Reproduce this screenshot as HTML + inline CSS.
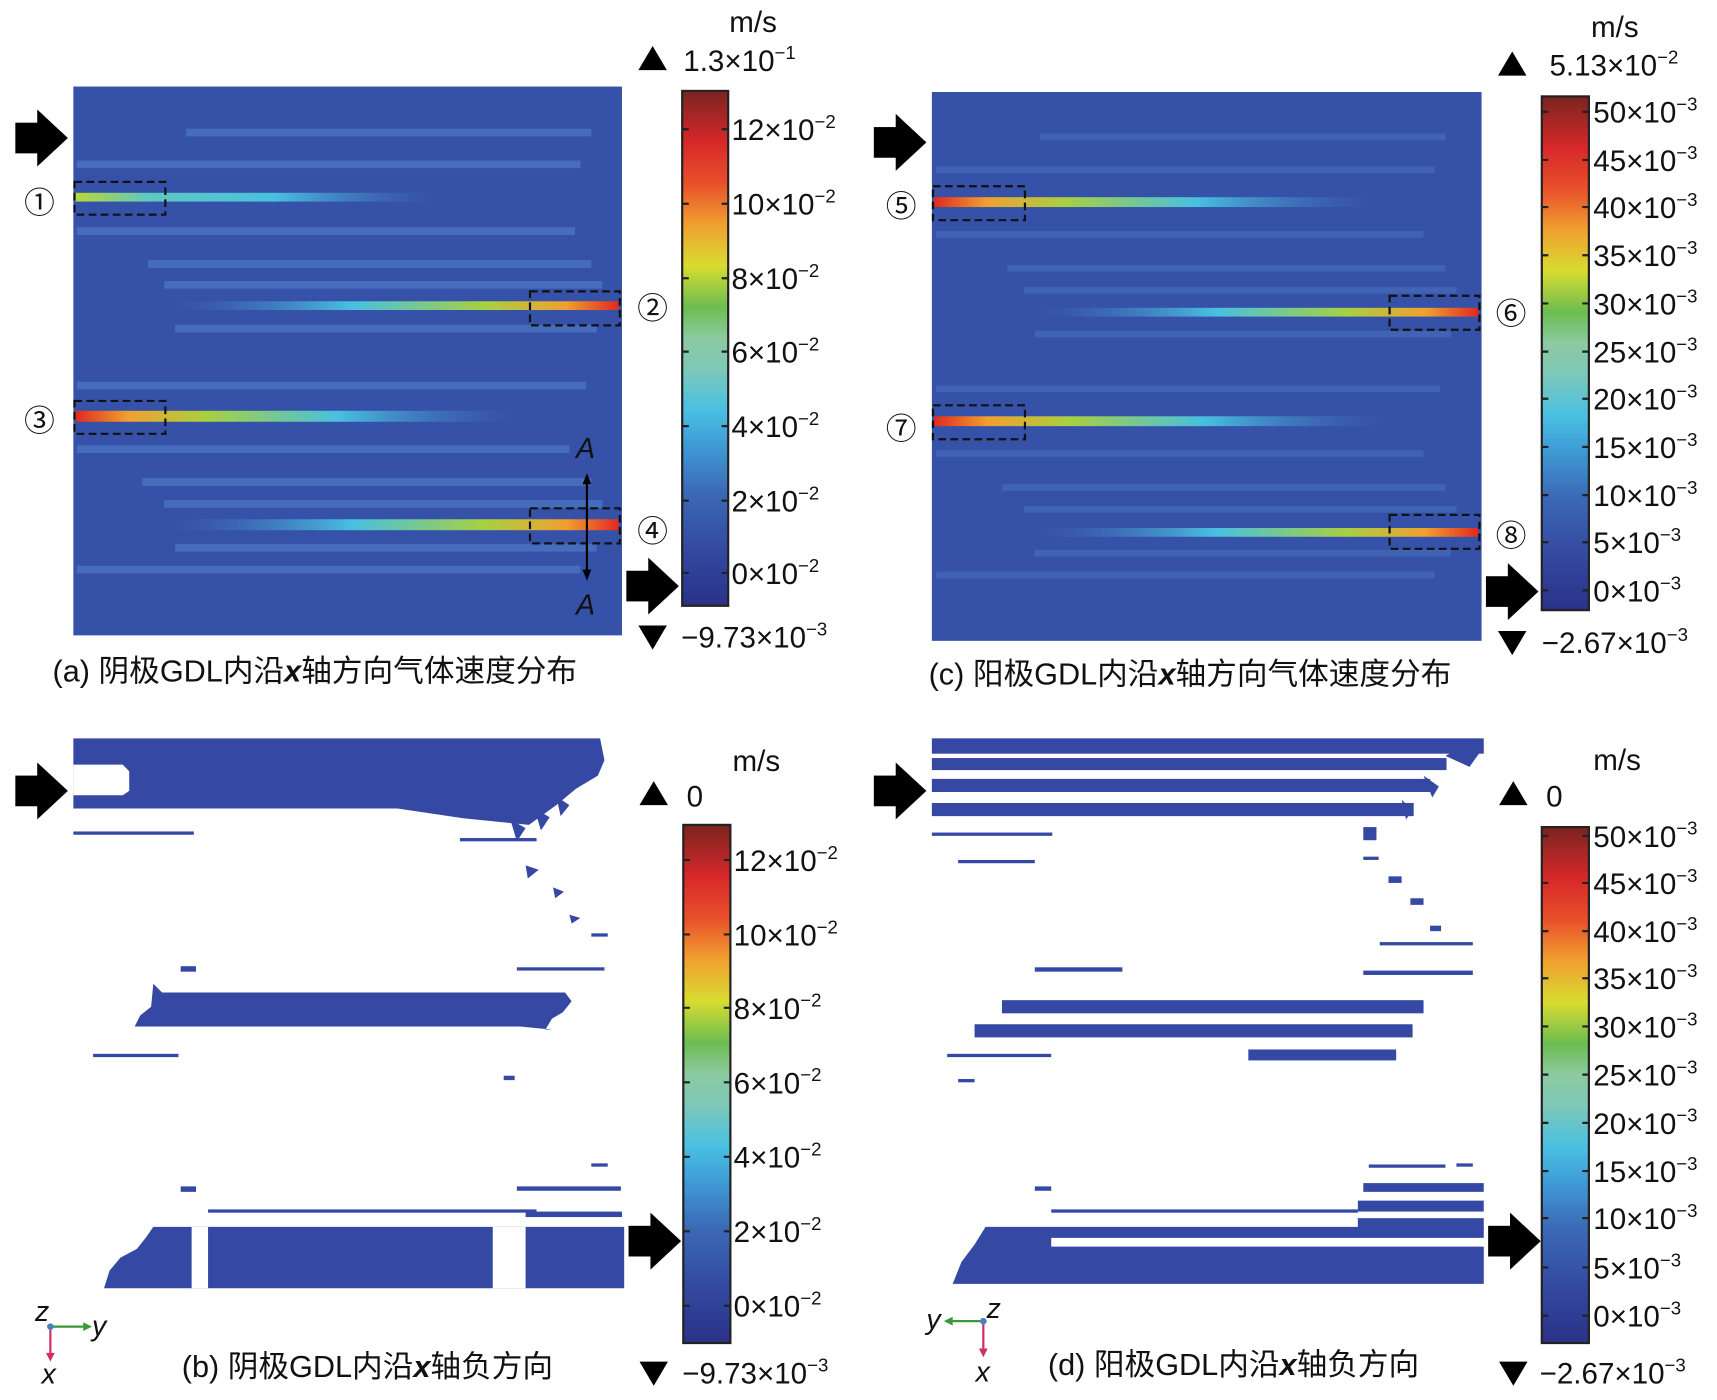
<!DOCTYPE html>
<html><head><meta charset="utf-8"><style>
html,body{margin:0;padding:0;background:#fff;}
svg{display:block;}
text{font-family:"Liberation Sans","Noto Sans CJK SC",sans-serif;fill:#111;}
</style></head><body>
<svg width="1717" height="1400" viewBox="0 0 1568 1278" preserveAspectRatio="none" xmlns="http://www.w3.org/2000/svg">
<defs>
<linearGradient id="cb" x1="0" y1="1" x2="0" y2="0">
<stop offset="0" stop-color="#2a3288"/><stop offset="0.1" stop-color="#33479f"/>
<stop offset="0.22" stop-color="#3b69b5"/><stop offset="0.32" stop-color="#3fa0d8"/>
<stop offset="0.38" stop-color="#4ac0e2"/><stop offset="0.46" stop-color="#7ec8b8"/>
<stop offset="0.52" stop-color="#8ccaa0"/><stop offset="0.58" stop-color="#6cbd50"/>
<stop offset="0.66" stop-color="#d8dc30"/><stop offset="0.74" stop-color="#f0a030"/>
<stop offset="0.82" stop-color="#e8502a"/><stop offset="0.9" stop-color="#d8282a"/>
<stop offset="1" stop-color="#7a2420"/></linearGradient>
<linearGradient id="jL" x1="0" x2="1"><stop offset="0" stop-color="#e02a20"/><stop offset="0.12" stop-color="#f0a030"/><stop offset="0.3" stop-color="#a8d040"/><stop offset="0.6" stop-color="#48c0e0"/><stop offset="1" stop-color="#4a74c0" stop-opacity="0"/></linearGradient>
<linearGradient id="jLw" x1="0" x2="1"><stop offset="0" stop-color="#b8d838"/><stop offset="0.2" stop-color="#60c8c0"/><stop offset="0.55" stop-color="#48c0e0"/><stop offset="1" stop-color="#4a74c0" stop-opacity="0"/></linearGradient>
<linearGradient id="jR" x1="1" x2="0"><stop offset="0" stop-color="#e02a20"/><stop offset="0.12" stop-color="#f0a030"/><stop offset="0.3" stop-color="#a8d040"/><stop offset="0.6" stop-color="#48c0e0"/><stop offset="1" stop-color="#4a74c0" stop-opacity="0"/></linearGradient>
<g id="arrow"><rect x="0" y="-14" width="22" height="28" fill="#000"/><polygon points="20,-26 48,0 20,26" fill="#000"/></g>
</defs>

<!-- Panel a -->
<rect x="67" y="79" width="501" height="501" fill="#3552a8"/>
<g stroke="#4a72c0" stroke-width="7" opacity="0.85">
<line x1="170" y1="121" x2="540" y2="121"/><line x1="70" y1="150" x2="530" y2="150"/>
<line x1="70" y1="211" x2="525" y2="211"/><line x1="135" y1="241" x2="540" y2="241"/>
<line x1="150" y1="260" x2="550" y2="260"/><line x1="160" y1="300" x2="545" y2="300"/>
<line x1="70" y1="352" x2="535" y2="352"/><line x1="70" y1="410" x2="520" y2="410"/>
<line x1="130" y1="440" x2="540" y2="440"/><line x1="150" y1="460" x2="550" y2="460"/>
<line x1="160" y1="500" x2="545" y2="500"/>
<line x1="70" y1="520" x2="530" y2="520"/>
</g>
<rect x="69" y="176" width="330" height="8" fill="url(#jLw)"/>
<rect x="160" y="275" width="405" height="8" fill="url(#jR)"/>
<rect x="69" y="375" width="400" height="10" fill="url(#jL)"/>
<rect x="160" y="474" width="405" height="10" fill="url(#jR)"/>
<g fill="none" stroke="#111" stroke-width="2" stroke-dasharray="7,4">
<rect x="68" y="166" width="83" height="30"/><rect x="484" y="266" width="82" height="31"/>
<rect x="68" y="366" width="83" height="30"/><rect x="484" y="464" width="82" height="32"/></g>
<line x1="536" y1="436" x2="536" y2="526" stroke="#000" stroke-width="2"/>
<polygon points="536,432 532,442 540,442"/><polygon points="536,530 532,520 540,520"/>
<text x="526" y="418" font-size="26" font-style="italic">A</text>
<text x="526" y="561" font-size="26" font-style="italic">A</text>
<g font-size="28"><text x="22" y="195">①</text><text x="582" y="291">②</text><text x="22" y="394">③</text><text x="582" y="495">④</text></g>
<use href="#arrow" x="14" y="126"/><use href="#arrow" x="572" y="535"/>
<text x="48" y="622" font-size="28">(a) 阴极GDL内沿<tspan font-style="italic" font-weight="bold">x</tspan>轴方向气体速度分布</text>

<!-- colorbar a -->
<rect x="623" y="83" width="42" height="470" fill="url(#cb)" stroke="#222" stroke-width="2"/>
<g font-size="27">
<text x="666" y="29">m/s</text>
<polygon points="583,64 609,64 596,42"/><text x="624" y="65">1.3×10<tspan font-size="17" dy="-11">−1</tspan></text>
<polygon points="583,571 609,571 596,593"/><text x="622" y="591">−9.73×10<tspan font-size="17" dy="-11">−3</tspan></text>
<text x="668" y="128">12×10<tspan font-size="17" dy="-11">−2</tspan></text>
<text x="668" y="196">10×10<tspan font-size="17" dy="-11">−2</tspan></text>
<text x="668" y="264">8×10<tspan font-size="17" dy="-11">−2</tspan></text>
<text x="668" y="331">6×10<tspan font-size="17" dy="-11">−2</tspan></text>
<text x="668" y="399">4×10<tspan font-size="17" dy="-11">−2</tspan></text>
<text x="668" y="467">2×10<tspan font-size="17" dy="-11">−2</tspan></text>
<text x="668" y="533">0×10<tspan font-size="17" dy="-11">−2</tspan></text></g>
<g stroke="#222" stroke-width="2">
<path d="M623 118h6M659 118h6M623 186h6M659 186h6M623 254h6M659 254h6M623 321h6M659 321h6M623 389h6M659 389h6M623 457h6M659 457h6M623 523h6M659 523h6"/></g>

<!-- Panel c -->
<rect x="851" y="84" width="502" height="501" fill="#3552a8"/>
<g stroke="#4468b8" stroke-width="6" opacity="0.8">
<line x1="950" y1="125" x2="1320" y2="125"/><line x1="855" y1="155" x2="1310" y2="155"/>
<line x1="855" y1="214" x2="1300" y2="214"/><line x1="920" y1="245" x2="1320" y2="245"/>
<line x1="935" y1="265" x2="1330" y2="265"/><line x1="945" y1="305" x2="1325" y2="305"/>
<line x1="855" y1="355" x2="1315" y2="355"/><line x1="855" y1="414" x2="1300" y2="414"/>
<line x1="915" y1="445" x2="1320" y2="445"/><line x1="935" y1="465" x2="1330" y2="465"/>
<line x1="945" y1="505" x2="1325" y2="505"/><line x1="855" y1="525" x2="1310" y2="525"/></g>
<rect x="853" y="180" width="400" height="9" fill="url(#jL)"/>
<rect x="950" y="281" width="400" height="8" fill="url(#jR)"/>
<rect x="853" y="380" width="410" height="9" fill="url(#jL)"/>
<rect x="950" y="482" width="400" height="8" fill="url(#jR)"/>
<g fill="none" stroke="#111" stroke-width="2" stroke-dasharray="7,4">
<rect x="852" y="170" width="84" height="31"/><rect x="1269" y="270" width="82" height="31"/>
<rect x="852" y="370" width="84" height="31"/><rect x="1269" y="470" width="82" height="31"/></g>
<g font-size="28"><text x="809" y="198">⑤</text><text x="1366" y="296">⑥</text><text x="809" y="401">⑦</text><text x="1366" y="499">⑧</text></g>
<use href="#arrow" x="798" y="130"/><use href="#arrow" x="1357" y="540"/>
<text x="848" y="625" font-size="28">(c) 阳极GDL内沿<tspan font-style="italic" font-weight="bold">x</tspan>轴方向气体速度分布</text>

<!-- colorbar c -->
<rect x="1408" y="88" width="43" height="469" fill="url(#cb)" stroke="#222" stroke-width="2"/>
<g font-size="27">
<text x="1453" y="34">m/s</text>
<polygon points="1368,69 1394,69 1381,47"/><text x="1415" y="69">5.13×10<tspan font-size="17" dy="-11">−2</tspan></text>
<polygon points="1368,576 1394,576 1381,598"/><text x="1408" y="596">−2.67×10<tspan font-size="17" dy="-11">−3</tspan></text>
<text x="1455" y="112">50×10<tspan font-size="17" dy="-11">−3</tspan></text>
<text x="1455" y="156">45×10<tspan font-size="17" dy="-11">−3</tspan></text>
<text x="1455" y="199">40×10<tspan font-size="17" dy="-11">−3</tspan></text>
<text x="1455" y="243">35×10<tspan font-size="17" dy="-11">−3</tspan></text>
<text x="1455" y="287">30×10<tspan font-size="17" dy="-11">−3</tspan></text>
<text x="1455" y="331">25×10<tspan font-size="17" dy="-11">−3</tspan></text>
<text x="1455" y="374">20×10<tspan font-size="17" dy="-11">−3</tspan></text>
<text x="1455" y="418">15×10<tspan font-size="17" dy="-11">−3</tspan></text>
<text x="1455" y="462">10×10<tspan font-size="17" dy="-11">−3</tspan></text>
<text x="1455" y="505">5×10<tspan font-size="17" dy="-11">−3</tspan></text>
<text x="1455" y="549">0×10<tspan font-size="17" dy="-11">−3</tspan></text></g>
<g stroke="#222" stroke-width="2"><path d="M1408 102h6M1445 102h6M1408 146h6M1445 146h6M1408 189h6M1445 189h6M1408 233h6M1445 233h6M1408 277h6M1445 277h6M1408 321h6M1445 321h6M1408 364h6M1445 364h6M1408 408h6M1445 408h6M1408 452h6M1445 452h6M1408 495h6M1445 495h6M1408 539h6M1445 539h6"/></g>

<!-- Panel b -->
<g fill="#3448a4">
<path d="M67 674H548l4 20-6 14-20 12-18 15-25 18-60-6-60-9H67z"/>
<rect x="67" y="759" width="110" height="3"/><rect x="420" y="765" width="70" height="3"/>
<path d="M466 748l14 8-8 12zM488 738l14 8-8 12zM508 727l12 8-8 10zM480 790l12 4-10 8zM505 810l10 4-8 6zM520 835l10 3-8 5z"/>
<rect x="540" y="852" width="15" height="3"/><rect x="472" y="883" width="80" height="3"/>
<rect x="165" y="882" width="14" height="5"/>
<path d="M140 898l8 8 H516l6 8-8 10-10 6-6 10H505l-30-3H123l5-10 10-8z"/>
<rect x="85" y="962" width="78" height="3"/><rect x="460" y="982" width="10" height="4"/>
<rect x="540" y="1062" width="15" height="3"/><rect x="472" y="1083" width="95" height="4"/>
<rect x="165" y="1083" width="14" height="5"/>
<rect x="190" y="1104" width="300" height="3"/><rect x="480" y="1106" width="88" height="5"/>
<path d="M140 1120H570v56H95l5-16 10-12 15-8 8-10z"/>
</g>
<g fill="#fff"><path d="M67 698h45l6 6v18l-6 4H67z"/><rect x="175" y="1120" width="15" height="56"/><rect x="450" y="1120" width="30" height="56"/></g>
<use href="#arrow" x="14" y="722"/><use href="#arrow" x="574" y="1133"/>
<g font-size="26" font-style="italic"><text x="32" y="1206">z</text><text x="84" y="1219">y</text><text x="38" y="1263">x</text></g>
<line x1="46" y1="1211" x2="80" y2="1211" stroke="#3a9a3a" stroke-width="2"/><polygon points="84,1211 76,1207 76,1215" fill="#3a9a3a"/>
<line x1="46" y1="1211" x2="46" y2="1238" stroke="#d03060" stroke-width="2"/><polygon points="46,1243 42,1235 50,1235" fill="#d03060"/>
<circle cx="46" cy="1211" r="3" fill="#4a80c0"/>
<text x="166" y="1257" font-size="28">(b) 阴极GDL内沿<tspan font-style="italic" font-weight="bold">x</tspan>轴负方向</text>

<!-- colorbar b -->
<rect x="624" y="753" width="43" height="473" fill="url(#cb)" stroke="#222" stroke-width="2"/>
<g font-size="27">
<text x="669" y="704">m/s</text>
<polygon points="584,735 610,735 597,713"/><text x="627" y="736">0</text>
<polygon points="584,1243 610,1243 597,1265"/><text x="623" y="1263">−9.73×10<tspan font-size="17" dy="-11">−3</tspan></text>
<text x="670" y="795">12×10<tspan font-size="17" dy="-11">−2</tspan></text>
<text x="670" y="863">10×10<tspan font-size="17" dy="-11">−2</tspan></text>
<text x="670" y="930">8×10<tspan font-size="17" dy="-11">−2</tspan></text>
<text x="670" y="998">6×10<tspan font-size="17" dy="-11">−2</tspan></text>
<text x="670" y="1066">4×10<tspan font-size="17" dy="-11">−2</tspan></text>
<text x="670" y="1134">2×10<tspan font-size="17" dy="-11">−2</tspan></text>
<text x="670" y="1202">0×10<tspan font-size="17" dy="-11">−2</tspan></text></g>
<g stroke="#222" stroke-width="2"><path d="M624 785h6M661 785h6M624 853h6M661 853h6M624 920h6M661 920h6M624 988h6M661 988h6M624 1056h6M661 1056h6M624 1124h6M661 1124h6M624 1192h6M661 1192h6"/></g>

<!-- Panel d -->
<g fill="#3448a4">
<rect x="851" y="674" width="504" height="14"/><rect x="851" y="692" width="470" height="11"/>
<rect x="851" y="711" width="455" height="12"/><rect x="851" y="733" width="440" height="12"/>
<path d="M1320 690l18-10 14 6-10 14zM1300 708l14 10-6 10zM1280 730l10 10-6 8z"/>
<rect x="851" y="760" width="110" height="3"/><rect x="1245" y="755" width="12" height="12"/>
<rect x="875" y="785" width="70" height="3"/><rect x="1245" y="782" width="14" height="3"/>
<rect x="1268" y="800" width="12" height="6"/><rect x="1288" y="820" width="12" height="6"/>
<rect x="1306" y="845" width="10" height="5"/><rect x="1260" y="860" width="85" height="3"/>
<rect x="945" y="883" width="80" height="4"/><rect x="1245" y="886" width="100" height="4"/>
<rect x="915" y="913" width="385" height="12"/><rect x="890" y="935" width="400" height="12"/>
<rect x="1140" y="958" width="135" height="10"/><rect x="865" y="962" width="95" height="3"/>
<rect x="875" y="985" width="15" height="3"/>
<rect x="1330" y="1062" width="15" height="3"/><rect x="1250" y="1063" width="70" height="3"/>
<rect x="945" y="1083" width="15" height="4"/><rect x="1245" y="1080" width="110" height="8"/>
<rect x="960" y="1104" width="280" height="3"/><rect x="1240" y="1096" width="115" height="10"/>
<rect x="1240" y="1112" width="115" height="10"/>
<path d="M900 1120H1355v10H960v8H1355v34H870l8-20 12-16z"/>
</g>
<use href="#arrow" x="798" y="722"/><use href="#arrow" x="1359" y="1133"/>
<g font-size="26" font-style="italic"><text x="846" y="1213">y</text><text x="901" y="1203">z</text><text x="891" y="1261">x</text></g>
<line x1="866" y1="1206" x2="898" y2="1206" stroke="#3a9a3a" stroke-width="2"/><polygon points="862,1206 870,1202 870,1210" fill="#3a9a3a"/>
<line x1="898" y1="1206" x2="898" y2="1234" stroke="#d03060" stroke-width="2"/><polygon points="898,1239 894,1231 902,1231" fill="#d03060"/>
<circle cx="898" cy="1206" r="3" fill="#4a80c0"/>
<text x="957" y="1255" font-size="28">(d) 阳极GDL内沿<tspan font-style="italic" font-weight="bold">x</tspan>轴负方向</text>

<!-- colorbar d -->
<rect x="1408" y="755" width="43" height="471" fill="url(#cb)" stroke="#222" stroke-width="2"/>
<g font-size="27">
<text x="1455" y="703">m/s</text>
<polygon points="1369,735 1395,735 1382,713"/><text x="1412" y="736">0</text>
<polygon points="1369,1243 1395,1243 1382,1265"/><text x="1406" y="1263">−2.67×10<tspan font-size="17" dy="-11">−3</tspan></text>
<text x="1455" y="773">50×10<tspan font-size="17" dy="-11">−3</tspan></text>
<text x="1455" y="816">45×10<tspan font-size="17" dy="-11">−3</tspan></text>
<text x="1455" y="860">40×10<tspan font-size="17" dy="-11">−3</tspan></text>
<text x="1455" y="903">35×10<tspan font-size="17" dy="-11">−3</tspan></text>
<text x="1455" y="947">30×10<tspan font-size="17" dy="-11">−3</tspan></text>
<text x="1455" y="991">25×10<tspan font-size="17" dy="-11">−3</tspan></text>
<text x="1455" y="1035">20×10<tspan font-size="17" dy="-11">−3</tspan></text>
<text x="1455" y="1079">15×10<tspan font-size="17" dy="-11">−3</tspan></text>
<text x="1455" y="1122">10×10<tspan font-size="17" dy="-11">−3</tspan></text>
<text x="1455" y="1167">5×10<tspan font-size="17" dy="-11">−3</tspan></text>
<text x="1455" y="1211">0×10<tspan font-size="17" dy="-11">−3</tspan></text></g>
<g stroke="#222" stroke-width="2"><path d="M1408 763h6M1445 763h6M1408 806h6M1445 806h6M1408 850h6M1445 850h6M1408 893h6M1445 893h6M1408 937h6M1445 937h6M1408 981h6M1445 981h6M1408 1025h6M1445 1025h6M1408 1069h6M1445 1069h6M1408 1112h6M1445 1112h6M1408 1157h6M1445 1157h6M1408 1201h6M1445 1201h6"/></g>
</svg>
</body></html>
